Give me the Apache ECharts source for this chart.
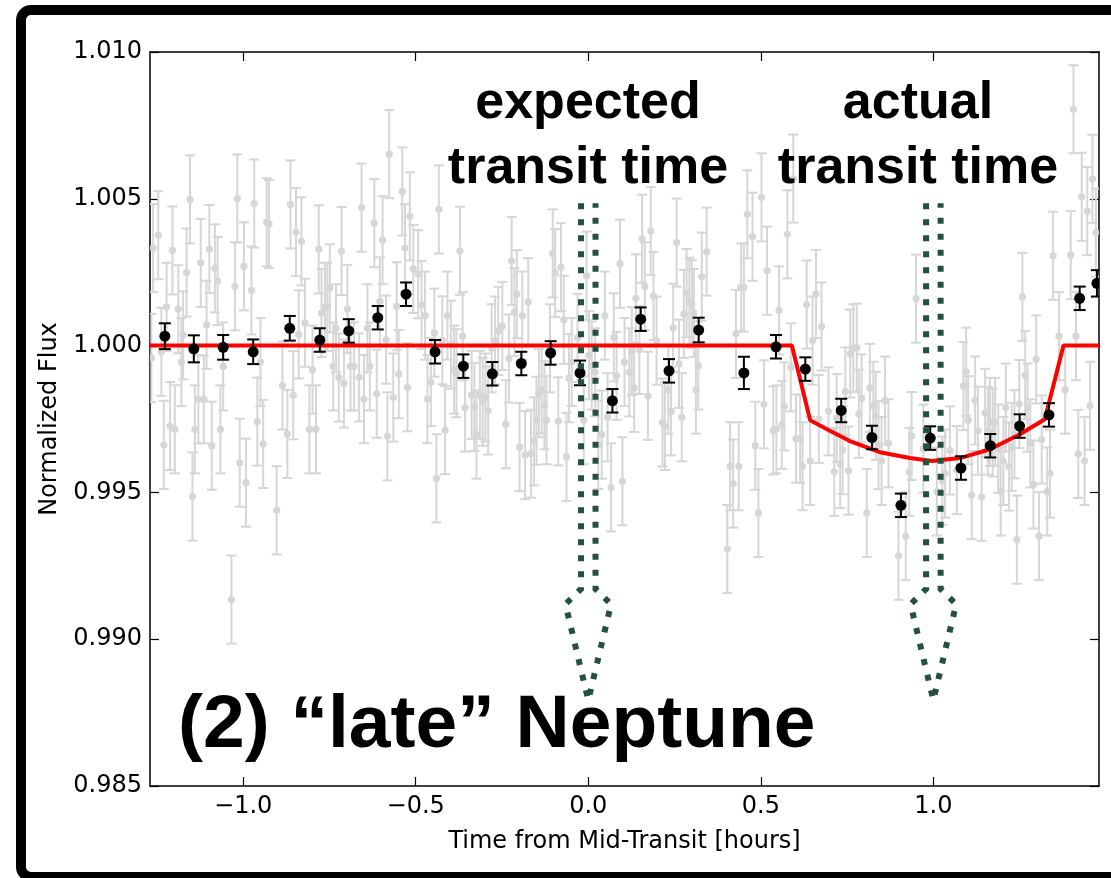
<!DOCTYPE html>
<html>
<head>
<meta charset="utf-8">
<script src="https://cdn.jsdelivr.net/npm/echarts@6/dist/echarts.min.js"></script>
<style>
  html, body { margin: 0; padding: 0; background: #ffffff; }
  #chart { width: 1111px; height: 878px; }
</style>
</head>
<body>
<div id="chart"></div>
<script>
// Unbinned photometry: [hours from predicted mid-transit, normalized flux]
const rawPoints = [
  [-1.261,1.00332],[-1.246,1.00376],[-1.266,0.99958],[-1.237,0.99979],[-1.230,0.99662],
  [-1.222,1.00132],[-1.212,0.99726],[-1.205,1.00324],[-1.198,0.99715],[-1.188,1.00124],
  [-1.179,0.99944],[-1.174,1.00035],[-1.164,1.00249],[-1.154,1.00498],[-1.147,0.99486],
  [-1.140,0.99715],[-1.130,0.99817],[-1.123,1.00282],[-1.114,0.99817],[-1.106,1.00071],
  [-1.098,1.00329],[-1.091,0.99659],[-1.082,1.00263],[-1.074,1.00220],[-1.066,0.99715],
  [-1.058,0.99929],[-1.034,0.99135],[-1.024,1.00202],[-1.017,1.00501],[-1.010,0.99601],
  [-0.998,1.00270],[-0.992,0.99533],[-0.976,1.00188],[-0.968,1.00484],[-0.959,0.99741],
  [-0.950,0.99944],[-0.942,0.99665],[-0.932,1.00420],[-0.925,1.00414],[-0.903,0.99439],
  [-0.886,0.99864],[-0.872,0.99699],[-0.863,1.00481],[-0.855,0.99831],[-0.847,1.00387],
  [-0.839,1.00038],[-0.831,1.00355],[-0.821,1.00078],[-0.808,0.99715],[-0.799,0.99918],
  [-0.789,0.99715],[-0.781,1.00328],[-0.773,1.00111],[-0.763,1.00132],[-0.756,1.00132],
  [-0.749,1.00195],[-0.739,0.99929],[-0.731,1.00059],[-0.723,0.99891],[-0.715,1.00322],
  [-0.708,0.99871],[-0.698,1.00125],[-0.689,0.99929],[-0.679,0.99929],[-0.664,0.99892],
  [-0.657,1.00470],[-0.650,0.99818],[-0.640,1.00059],[-0.633,0.99929],[-0.620,1.00417],
  [-0.613,0.99836],[-0.604,1.00151],[-0.596,1.00359],[-0.586,1.00020],[-0.582,0.99691],
  [-0.577,1.00652],
  [-0.565,0.99823],[-0.555,1.00134],[-0.549,0.99903],[-0.539,1.00525],[-0.531,1.00332],
  [-0.524,0.99858],[-0.517,1.00440],[-0.507,1.00261],[-0.493,1.00243],[-0.483,1.00138],
  [-0.473,1.00102],[-0.466,0.99818],[-0.456,0.99876],[-0.446,1.00044],[-0.440,0.99548],
  [-0.433,1.00464],[-0.423,1.00018],[-0.415,0.99712],[-0.408,1.00102],[-0.398,1.00003],
  [-0.389,0.99918],[-0.382,0.99906],[-0.372,1.00323],[-0.364,1.00032],[-0.357,0.99789],
  [-0.338,0.99832],[-0.330,0.99791],[-0.324,0.99697],[-0.314,0.99832],[-0.306,0.99809],
  [-0.298,0.99823],[-0.290,0.99779],[-0.280,0.99991],[-0.270,1.00017],[-0.261,1.00050],
  [-0.249,1.00067],[-0.239,0.99732],[-0.230,0.99956],[-0.222,1.00288],[-0.214,1.00114],
  [-0.207,1.00175],[-0.199,0.99654],[-0.191,1.00102],[-0.183,0.99627],[-0.174,1.00148],
  [-0.166,0.99632],[-0.157,0.99674],[-0.150,0.99744],[-0.143,0.99838],[-0.135,0.99850],
  [-0.127,0.99797],[-0.121,0.99746],[-0.111,0.99991],[-0.103,1.00314],[-0.096,1.00247],
  [-0.087,0.99742],[-0.079,1.00267],[-0.071,1.00088],[-0.063,0.99621],[-0.056,0.99889],
  [-0.048,0.99944],[-0.031,1.00026],[-0.013,0.99746],[-0.005,1.00238],[0.002,0.99967],
  [0.010,0.99932],[0.020,0.99909],[0.029,0.99662],[0.039,0.99697],[0.048,1.00102],
  [0.056,0.99756],[0.066,0.99517],[0.074,1.00028],[0.082,0.99897],[0.092,1.00279],
  [0.099,0.99538],[0.105,0.99944],
  [0.119,0.99909],[0.126,0.99981],[0.133,0.99856],[0.138,1.00161],[0.148,0.99985],
  [0.156,1.00364],[0.164,1.00202],[0.173,0.99829],[0.181,1.00390],[0.189,1.00169],
  [0.198,1.00017],[0.215,0.99738],[0.222,0.99726],[0.232,0.99850],[0.240,0.99776],
  [0.246,1.00061],[0.256,1.00351],[0.263,0.99938],[0.271,0.99756],[0.277,1.00108],
  [0.285,1.00179],[0.293,1.00149],[0.300,1.00141],[0.306,1.00111],[0.312,0.99850],
  [0.319,0.99932],[0.329,1.00235],[0.343,1.00320],[0.403,0.99307],[0.411,0.99589],
  [0.420,0.99530],[0.428,1.00040],[0.436,0.99589],[0.443,1.00198],[0.451,1.00198],
  [0.461,1.00447],[0.476,1.00371],[0.484,0.99659],[0.493,0.99430],[0.502,1.00505],
  [0.509,0.99800],[0.518,1.00255],[0.536,0.99711],[0.545,0.99715],[0.553,1.00120],
  [0.561,0.99730],[0.568,0.99793],[0.577,1.00379],[0.587,0.99926],[0.594,1.00569],
  [0.602,0.99683],[0.614,0.99683],[0.621,0.99589],[0.633,1.00140],[0.643,0.99607],
  [0.650,1.00017],[0.660,1.00176],[0.668,0.99750],[0.676,1.00065],[0.696,0.99776],
  [0.713,0.99570],[0.720,0.99753],[0.730,0.99597],[0.737,0.99644],[0.745,0.99844],
  [0.754,0.99574],[0.759,0.99973],[0.768,0.99991],[0.778,0.99993],[0.784,0.99768],
  [0.792,0.99820],[0.807,0.99430],[0.816,0.99856],[0.826,0.99795],[0.833,0.99761],
  [0.841,0.99661],[0.850,0.99607],[0.860,0.99813],[0.870,0.99667],[0.899,0.99284],
  [0.920,0.99351],[0.930,0.99570],[0.937,0.99692],[0.950,1.00160],[0.971,0.99649],
  [1.010,0.99503],[1.026,0.99540],[1.034,0.99564],[1.048,0.99643],[1.068,0.99576],
  [1.087,0.99862],[1.095,0.99911],[1.101,0.99746],[1.111,0.99491],[1.121,0.99813],
  [1.129,0.99710],[1.140,0.99485],[1.150,0.99771],[1.158,0.99710],[1.164,0.99740],
  [1.172,0.99704],[1.179,0.99740],[1.188,0.99649],[1.195,0.99503],[1.203,0.99607],
  [1.210,0.99789],[1.219,0.99588],[1.227,0.99655],[1.235,0.99698],[1.242,0.99339],
  [1.249,0.99801],[1.258,1.00166],[1.266,0.99899],[1.273,0.99789],[1.281,0.99667],
  [1.290,0.99527],[1.298,0.99953],[1.306,0.99351],[1.314,0.99680],[1.330,0.99503],
  [1.338,0.99564],[1.347,1.00306],[1.364,1.00032],[1.382,0.99850],[1.398,1.00308],
  [1.406,1.00805],[1.413,1.00032],[1.420,0.99631],[1.430,1.00507],[1.438,0.99607],
  [1.446,1.00458],[1.454,0.99795],[1.461,1.00568],[1.471,1.00385]
];
const rawErr = 0.0015;

// Binned light curve
const binTime = [-1.227,-1.143,-1.058,-0.971,-0.865,-0.778,-0.694,-0.610,-0.528,-0.444,
                 -0.362,-0.278,-0.194,-0.109,-0.024,0.070,0.152,0.234,0.320,0.451,
                 0.544,0.629,0.733,0.822,0.906,0.991,1.080,1.165,1.250,1.335,1.424,1.474];
const binFlux = [1.00032,0.99989,0.99994,0.99979,1.00059,1.00019,1.00050,1.00095,1.00175,0.99979,
                 0.99930,0.99904,0.99939,0.99975,0.99907,0.99812,1.00090,0.99914,1.00053,0.99907,
                 0.99996,0.99920,0.99779,0.99687,0.99456,0.99685,0.99583,0.99659,0.99726,0.99764,1.00161,1.00212];
const binErr  = [0.00044,0.00046,0.00042,0.00042,0.00042,0.00040,0.00040,0.00040,0.00040,0.00040,
                 0.00040,0.00040,0.00040,0.00040,0.00042,0.00040,0.00040,0.00040,0.00042,0.00055,
                 0.00040,0.00040,0.00040,0.00040,0.00040,0.00040,0.00040,0.00040,0.00040,0.00040,0.00040,0.00045];

// Best-fit transit model
const modelTime = [-1.27, 0.590, 0.643, 0.700, 0.758, 0.845, 0.932, 0.996, 1.077, 1.164, 1.251, 1.323, 1.377, 1.48];
const modelFlux = [1.0000, 1.0000, 0.99746, 0.99710, 0.99675, 0.99637, 0.99617, 0.99607, 0.99617, 0.99647, 0.99698, 0.99749, 1.0000, 1.0000];

// Transit epochs: expected and observed
const transitTimes = [0.0, 1.0];

const xTicks = [-1.0, -0.5, 0.0, 0.5, 1.0];
const yTicks = [0.985, 0.990, 0.995, 1.000, 1.005, 1.010];
const xRange = [-1.27, 1.48];
const yRange = [0.985, 1.010];

// Dotted arrow outline, in axis units relative to the epoch
const arrowShape = { shaftHalf: 0.021, flareHalf: 0.066, top: 1.00485, neck: 0.99171, flare: 0.99119, tip: 0.98792 };

const axisFont = 'DejaVu Sans';
const boldFont = '"Liberation Sans", Arial, Helvetica, sans-serif';

function errorBarItem(color, capHalf, dotR, barW) {
  return function (params, api) {
    const x = api.value(0), y = api.value(1), e = api.value(2);
    const c = api.coord([x, y]);
    const hi = api.coord([x, y + e]);
    const lo = api.coord([x, y - e]);
    const st = { stroke: color, lineWidth: barW };
    return {
      type: 'group',
      children: [
        { type: 'line', shape: { x1: c[0], y1: hi[1], x2: c[0], y2: lo[1] }, style: st },
        { type: 'line', shape: { x1: c[0] - capHalf, y1: hi[1], x2: c[0] + capHalf, y2: hi[1] }, style: st },
        { type: 'line', shape: { x1: c[0] - capHalf, y1: lo[1], x2: c[0] + capHalf, y2: lo[1] }, style: st },
        { type: 'circle', shape: { cx: c[0], cy: c[1], r: dotR }, style: { fill: color } }
      ]
    };
  };
}

const fmtX = v => (v < 0 ? '\u2212' + Math.abs(v).toFixed(1) : v.toFixed(1));

const tickStyle = { show: true, inside: true, length: 9, lineStyle: { color: '#000', width: 1.2 } };
const frameLine = { show: true, onZero: false, lineStyle: { color: '#000', width: 1.5 } };

const chart = echarts.init(document.getElementById('chart'), null, { renderer: 'canvas' });

chart.setOption({
  animation: false,
  backgroundColor: '#ffffff',
  grid: { left: 150, top: 52, width: 949, height: 734, containLabel: false },
  xAxis: [
    {
      type: 'value', position: 'bottom', min: xRange[0], max: xRange[1],
      axisLine: frameLine, splitLine: { show: false },
      axisTick: Object.assign({ customValues: xTicks }, tickStyle),
      axisLabel: { customValues: xTicks, formatter: fmtX, color: '#000', fontFamily: axisFont, fontSize: 24, margin: 9 },
      name: 'Time from Mid-Transit [hours]', nameLocation: 'middle', nameGap: 44,
      nameTextStyle: { color: '#000', fontFamily: axisFont, fontSize: 24 }
    },
    {
      type: 'value', position: 'top', min: xRange[0], max: xRange[1],
      axisLine: frameLine, splitLine: { show: false },
      axisTick: Object.assign({ customValues: xTicks }, tickStyle),
      axisLabel: { show: false }
    }
  ],
  yAxis: [
    {
      type: 'value', position: 'left', min: yRange[0], max: yRange[1],
      axisLine: frameLine, splitLine: { show: false },
      axisTick: Object.assign({ customValues: yTicks }, tickStyle),
      axisLabel: { customValues: yTicks, formatter: v => v.toFixed(3), color: '#000', fontFamily: axisFont, fontSize: 24, margin: 8 },
      name: 'Normalized Flux', nameLocation: 'middle', nameGap: 88, nameRotate: 90,
      nameTextStyle: { color: '#000', fontFamily: axisFont, fontSize: 24 }
    },
    {
      type: 'value', position: 'right', min: yRange[0], max: yRange[1],
      axisLine: frameLine, splitLine: { show: false },
      axisTick: Object.assign({ customValues: yTicks }, tickStyle),
      axisLabel: { show: false }
    }
  ],
  series: [
    {
      name: 'unbinned', type: 'custom', clip: true, z: 2,
      renderItem: errorBarItem('#d6d6d6', 5, 3.6, 2),
      data: rawPoints.map(p => [p[0], p[1], rawErr])
    },
    {
      name: 'model', type: 'line', z: 3, clip: true, showSymbol: false, symbol: 'none',
      lineStyle: { color: '#ff0000', width: 4 },
      data: modelTime.map((t, i) => [t, modelFlux[i]])
    },
    {
      name: 'binned', type: 'custom', clip: true, z: 4,
      renderItem: errorBarItem('#000000', 6, 5.5, 2),
      data: binTime.map((t, i) => [t, binFlux[i], binErr[i]])
    },
    {
      name: 'epochs', type: 'custom', clip: false, z: 5,
      renderItem: function (params, api) {
        const t = api.value(0), a = arrowShape;
        const pts = [
          [t - a.shaftHalf, a.top], [t - a.shaftHalf, a.neck], [t - a.flareHalf, a.flare],
          [t, a.tip], [t + a.flareHalf, a.flare], [t + a.shaftHalf, a.neck], [t + a.shaftHalf, a.top]
        ].map(p => api.coord(p));
        return {
          type: 'polyline', shape: { points: pts },
          style: { stroke: '#24513f', lineWidth: 6, lineDash: [6, 10], lineCap: 'butt', lineJoin: 'miter', fill: null }
        };
      },
      data: transitTimes.map(t => [t])
    }
  ],
  graphic: [
    { type: 'text', z: 100, x: 588, y: 104, style: { text: 'expected', font: 'bold 52px ' + boldFont, fill: '#000', align: 'center', verticalAlign: 'middle' } },
    { type: 'text', z: 100, x: 588, y: 169, style: { text: 'transit time', font: 'bold 52px ' + boldFont, fill: '#000', align: 'center', verticalAlign: 'middle' } },
    { type: 'text', z: 100, x: 918, y: 104, style: { text: 'actual', font: 'bold 52px ' + boldFont, fill: '#000', align: 'center', verticalAlign: 'middle' } },
    { type: 'text', z: 100, x: 918, y: 169, style: { text: 'transit time', font: 'bold 52px ' + boldFont, fill: '#000', align: 'center', verticalAlign: 'middle' } },
    { type: 'text', z: 100, x: 178, y: 726, style: { text: '(2) \u201Clate\u201D Neptune', font: 'bold 75px ' + boldFont, fill: '#000', align: 'left', verticalAlign: 'middle' } },
    { type: 'rect', z: 110, shape: { x: 21, y: 10, width: 1200, height: 867, r: 10 }, style: { fill: null, stroke: '#000', lineWidth: 10 } }
  ]
});
</script>
</body>
</html>
